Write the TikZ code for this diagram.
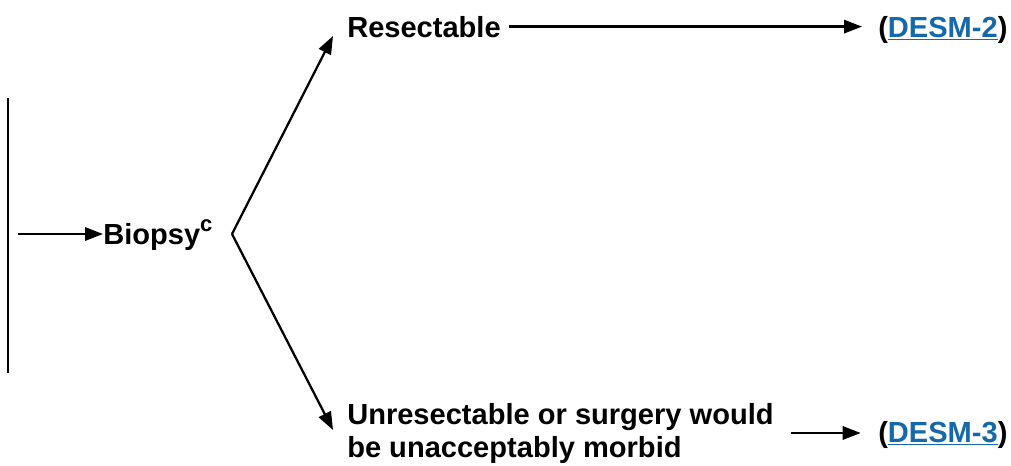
\documentclass[tikz,border=0pt]{standalone}
\usepackage{fontspec}
\setmainfont{Liberation Sans}
\usetikzlibrary{arrows.meta}
\definecolor{linkblue}{RGB}{21,104,170}
\tikzset{lbl/.style = {font = \fontsize{21.8}{24.75}\selectfont\bfseries, inner sep = 0, anchor = base west}}
\tikzset{arr/.style = {line width = 1.7pt, -{Triangle[length = 13.5pt, width = 10pt]}}}
\newcommand{\desmlink}[1]{(\textcolor{linkblue}{\underline{#1}})}
\newcommand{\supc}{\raisebox{0.42em}{\fontsize{16.5}{16.5}\selectfont c}}

\begin{document}
\begin{tikzpicture}[x = 0.75pt, y = -0.75pt]
    \useasboundingbox (0, 0) rectangle (1011, 465);

    \coordinate (top) at (8, 98);
    \coordinate (bot) at (8, 373);
    \coordinate (start) at (18, 234);
    \coordinate (fork) at (232, 234);
    \coordinate (up) at (333, 36);
    \coordinate (down) at (333, 430);

    \node [lbl] (biopsy) at (103, 244) {Biopsy\supc};
    \node [lbl] (resect) at (347, 37) {Resectable};
    \node [lbl, align = left] (unresect) at (347, 457) {Unresectable or surgery would\\be unacceptably morbid};
    \node [lbl] (desm2) at (878, 37) {\desmlink{DESM-2}};
    \node [lbl] (desm3) at (878, 442) {\desmlink{DESM-3}};

    \draw [line width = 1.7pt] (top) -- (bot);
    \draw [arr] (start) -- (start -| biopsy.west);
    \draw [arr] (fork) -- (up);
    \draw [arr] (fork) -- (down);
    \draw [arr, shorten <= 6pt, shorten >= 12pt] (resect.east) -- (resect.east -| desm2.west);
    \draw [arr, shorten <= 12.5pt, shorten >= 13pt] (unresect.east) -- (unresect.east -| desm3.west);
\end{tikzpicture}
\end{document}
